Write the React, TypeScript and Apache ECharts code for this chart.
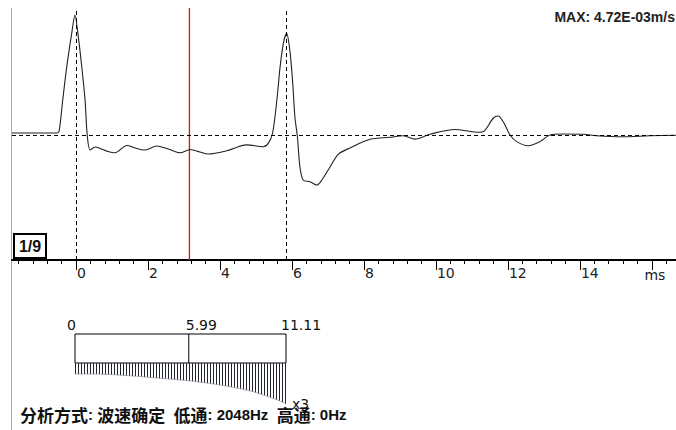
import React, { useEffect, useRef } from 'react';
import * as echarts from 'echarts';

// waveform: time (ms) and velocity (1e-3 m/s)
const timeMs = [-1.78, -0.53, -0.47, -0.37, -0.26, -0.12, -0.03, 0.05, 0.16, 0.25, 0.31, 0.39, 0.53, 0.67, 0.89, 1.08, 1.41, 1.64, 1.92, 2.24, 2.56, 2.89, 3.17, 3.44, 3.68, 4.19, 4.74, 5.2, 5.34, 5.46, 5.58, 5.67, 5.76, 5.85, 5.94, 6.02, 6.08, 6.15, 6.22, 6.31, 6.5, 6.69, 6.83, 7.06, 7.29, 7.61, 8.17, 8.72, 9.09, 9.42, 9.83, 10.53, 11.13, 11.31, 11.59, 11.73, 11.87, 12.06, 12.24, 12.56, 12.89, 13.17, 13.54, 14.09, 14.46, 15.2, 15.94, 16.67];
const velocity = [0.08, 0.08, 0.16, 1.38, 2.67, 4.01, 4.72, 4.01, 2.67, 1.38, 0, -0.59, -0.47, -0.53, -0.65, -0.7, -0.41, -0.51, -0.59, -0.43, -0.55, -0.7, -0.57, -0.67, -0.75, -0.62, -0.39, -0.46, -0.33, 0.07, 1.38, 2.69, 3.61, 4.0, 3.34, 2.05, 0.72, -0.07, -1.25, -1.77, -1.84, -1.97, -1.77, -1.25, -0.75, -0.51, -0.17, -0.09, -0.03, -0.16, 0.03, 0.22, 0.11, 0.13, 0.66, 0.75, 0.52, 0, -0.26, -0.42, -0.26, 0, 0.04, 0.03, -0.03, -0.07, -0.03, -0.01];

const dashedCursors = [0, 5.85];
const redCursor = 3.15;
const majorTicks = [0, 2, 4, 6, 8, 10, 12, 14, 16];
const tickLabels = [0, 2, 4, 6, 8, 10, 12, 14];
const axisUnit = 'ms';
const maxLabel = 'MAX: 4.72E-03m/s';
const pageLabel = '1/9';

// gain scale
const gainScaleTicks = [0, 5.99, 11.11];
const gainScaleLabels = ['0', '5.99', '11.11'];
const gainT = [0, 0.79, 1.84, 2.63, 3.42, 4.48, 5.95, 7.11, 8.32, 9.37, 10.27, 10.79, 11.11];
const gainDepth = [11, 11, 11.5, 12.5, 13.5, 15.3, 17.7, 20.5, 24.3, 28.7, 34.3, 38, 41];
const gainMultiplier = 'x3';

const X_MIN = -1.78;
const X_MAX = 16.67;
const Y_MIN = -4.92;
const Y_MAX = 5.0;

const minorTicks: number[] = [];
for (let i = -4; i <= 41; i++) {
  const v = Math.round(i * 0.4 * 100) / 100;
  if (Math.abs(v / 2 - Math.round(v / 2)) > 1e-6) minorTicks.push(v);
}

const RED = '#d01818';

export default function App() {
  const ref = useRef<HTMLDivElement>(null);
  useEffect(() => {
    if (!ref.current) return;
    const chart = echarts.init(ref.current, undefined, { renderer: 'svg' });

    const cv = document.createElement('canvas');
    cv.width = 3;
    cv.height = 3;
    const ctx = cv.getContext('2d')!;
    ctx.fillStyle = '#1f2430';
    ctx.fillRect(0, 0, 1, 3);

    const option: any = {
      animation: false,
      backgroundColor: '#ffffff',
      grid: [
        { left: 12, right: 0, top: 8, height: 252 },
        { left: 75, width: 211, top: 334, height: 29, show: true, borderColor: '#000', borderWidth: 1, backgroundColor: 'transparent' },
        { left: 75, width: 211, top: 363, height: 50 },
      ],
      xAxis: [
        {
          type: 'value', gridIndex: 0, min: X_MIN, max: X_MAX, position: 'bottom',
          axisLine: { show: true, onZero: false, lineStyle: { color: '#000', width: 2 } },
          axisTick: { show: true, length: 10, customValues: majorTicks, lineStyle: { color: '#000', width: 1 } },
          axisLabel: {
            customValues: tickLabels, align: 'left', padding: [0, 0, 0, 1], margin: 6,
            fontFamily: 'DejaVu Sans', fontSize: 14, color: '#222',
          },
          splitLine: { show: false },
        },
        {
          type: 'value', gridIndex: 0, min: X_MIN, max: X_MAX, position: 'bottom',
          axisLine: { show: false, onZero: false },
          axisTick: { show: true, length: 4, customValues: minorTicks, lineStyle: { color: '#000', width: 1 } },
          axisLabel: { show: false },
          splitLine: { show: false },
        },
        { type: 'value', gridIndex: 1, min: 0, max: 11.11, show: false, splitLine: { show: false } },
        { type: 'value', gridIndex: 2, min: 0, max: 11.11, show: false, splitLine: { show: false } },
      ],
      yAxis: [
        { type: 'value', gridIndex: 0, min: Y_MIN, max: Y_MAX, show: false, splitLine: { show: false } },
        { type: 'value', gridIndex: 1, min: 0, max: 1, show: false, splitLine: { show: false } },
        { type: 'value', gridIndex: 2, min: 0, max: 50, inverse: true, show: false, splitLine: { show: false } },
      ],
      series: [
        {
          type: 'line', xAxisIndex: 0, yAxisIndex: 0, color: RED,
          data: [[redCursor, Y_MIN], [redCursor, Y_MAX]],
          showSymbol: false, itemStyle: { color: RED }, lineStyle: { color: RED, width: 1.3 }, z: 1,
        },
        {
          type: 'line', xAxisIndex: 0, yAxisIndex: 0,
          data: timeMs.map((t, i) => [t, velocity[i]]),
          showSymbol: false, smooth: 0.3, z: 3,
          lineStyle: { color: '#222', width: 1.1 },
          markLine: {
            silent: true, symbol: ['none', 'none'], label: { show: false },
            lineStyle: { color: '#000', type: [4, 3], width: 1 },
            data: [
              ...dashedCursors.map((v) => ({ xAxis: v })),
              { yAxis: 0 },
            ],
          },
        },
        {
          type: 'line', xAxisIndex: 2, yAxisIndex: 1,
          data: [[gainScaleTicks[1], 0], [gainScaleTicks[1], 1]],
          showSymbol: false, lineStyle: { color: '#000', width: 1 },
        },
        {
          type: 'line', xAxisIndex: 3, yAxisIndex: 2,
          data: gainT.map((t, i) => [t, gainDepth[i]]),
          showSymbol: false, smooth: 0.3,
          lineStyle: { color: '#7d828c', width: 0.6 },
          areaStyle: { color: { image: cv, repeat: 'repeat', imageWidth: 3, imageHeight: 3 }, opacity: 1 },
        },
      ],
    };
    chart.setOption(option);

    const labelShift = [-8, -3, -5];
    const gainLabelEls = gainScaleTicks.map((v, i) => {
      const px = chart.convertToPixel({ xAxisIndex: 2 }, v) as number;
      return {
        type: 'text', x: px + labelShift[i], y: 325,
        style: { text: gainScaleLabels[i], font: '14px "DejaVu Sans"', fill: '#111', align: 'left', verticalAlign: 'middle' },
      };
    });
    const unitX = chart.convertToPixel({ xAxisIndex: 0 }, 16) as number;

    chart.setOption({
      graphic: [
        { type: 'line', shape: { x1: 11.5, y1: 8, x2: 11.5, y2: 430 }, style: { stroke: '#8aaee0', lineWidth: 1 } },
        { type: 'rect', shape: { x: 14, y: 234, width: 32, height: 24 }, style: { fill: '#fff', stroke: '#000', lineWidth: 2 }, z: 10 },
        { type: 'text', x: 30, y: 246.5, z: 11, style: { text: pageLabel, font: 'bold 16px "Liberation Sans"', fill: '#111', align: 'center', verticalAlign: 'middle' } },
        { type: 'text', x: unitX + 3, y: 275, style: { text: axisUnit, font: '14px "DejaVu Sans"', fill: '#222', align: 'center', verticalAlign: 'middle' } },
        { type: 'text', x: 675, y: 17, style: { text: maxLabel, font: 'bold 14px "Liberation Sans"', fill: '#222', align: 'right', verticalAlign: 'middle' } },
        ...gainLabelEls,
        { type: 'text', x: 292, y: 404, z: 12, style: { text: gainMultiplier, font: '14px "DejaVu Sans"', fill: '#111', align: 'left', verticalAlign: 'middle' } },
        {
          type: 'text', x: 20, y: 414, z: 11,
          style: {
            text: '{c|分析方式}{l|: }{c|波速确定}{l|  }{c|低通}{l|: 2048Hz  }{c|高通}{l|: 0Hz}',
            verticalAlign: 'middle', align: 'left',
            rich: {
              c: { fontSize: 17, fontWeight: 'bold', fontFamily: 'Noto Sans CJK SC', fill: '#111' },
              l: { fontSize: 15, fontWeight: 'bold', fontFamily: 'Liberation Sans', fill: '#111' },
            },
          },
        },
      ],
    });

    return () => chart.dispose();
  }, []);
  return <div ref={ref} style={{ position: 'absolute', left: 0, top: 0, width: 676, height: 430, background: '#fff' }} />;
}
